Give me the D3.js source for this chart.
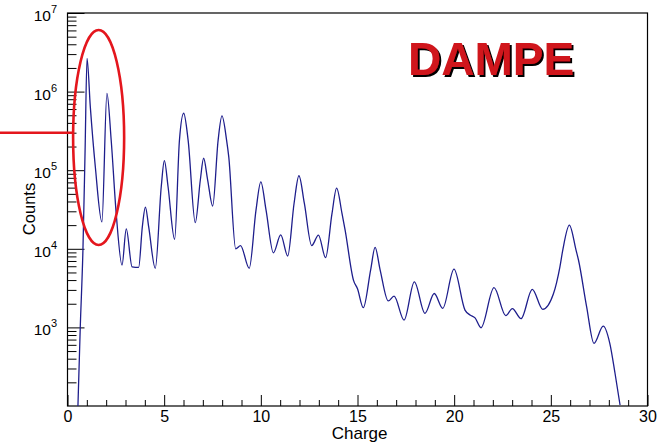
<!DOCTYPE html>
<html>
<head>
<meta charset="utf-8">
<script src="https://cdn.jsdelivr.net/npm/d3@7/dist/d3.min.js"></script>
<style>
  html, body { margin: 0; padding: 0; background: #fff; }
  svg { display: block; }
  text { font-family: "Liberation Sans", Arial, Helvetica, sans-serif; }
</style>
</head>
<body>
<svg id="chart" width="667" height="442"></svg>
<script>
// ---- data ----
const charge = [0.54, 0.66, 0.80, 0.91, 1.01, 1.18, 1.44, 1.78, 2.04, 2.26, 2.52, 2.82, 3.04, 3.34, 3.68,
  3.87, 4.03, 4.20, 4.54, 4.85, 5.01, 5.20, 5.54, 5.79, 6.01, 6.24, 6.61, 6.87, 7.04, 7.25, 7.51,
  7.79, 7.99, 8.23, 8.34, 8.70, 8.95, 9.40, 9.75, 10.0, 10.27, 10.65, 11.03,
  11.39, 11.72, 11.97, 12.25, 12.63, 12.98, 13.35, 13.68, 13.92, 14.2, 14.36, 14.79, 15.0, 15.3,
  15.68, 15.91, 16.17, 16.59, 16.89, 17.41,
  17.94, 18.49, 18.97, 19.41, 19.99, 20.56, 20.82, 21.08, 21.39, 22.06, 22.67, 23.01, 23.46, 24.04,
  24.58, 25.13, 25.47, 25.62, 25.96, 26.3, 26.43, 26.85, 27.23, 27.71, 28.05, 28.32, 28.58];
const counts = [100, 1000, 1.0e4, 1.8e5, 2.65e6, 6.4e5, 1.1e5, 2.2e4, 9.5e5, 2.4e5, 2.8e4, 6.2e3, 1.79e4, 5.9e3, 5.8e3,
  1.9e4, 3.4e4, 1.9e4, 5.65e3, 6.2e4, 1.32e5, 6.2e4, 1.32e4, 2.4e5, 5.3e5, 2.4e5, 2.15e4, 7.5e4, 1.42e5, 7.5e4, 3.5e4,
  2.4e5, 4.9e5, 2.4e5, 1.49e5, 1.0e4, 1.1e4, 5.65e3, 3.1e4, 7.1e4, 3.1e4, 8.9e3, 1.5e4,
  8.1e3, 3.8e4, 8.5e4, 3.8e4, 1.1e4, 1.49e4, 7.7e3, 2.8e4, 5.9e4, 2.8e4, 1.73e4, 4.0e3, 3.1e3, 1.78e3,
  5.4e3, 1.04e4, 5.4e3, 2.17e3, 2.5e3, 1.24e3,
  3.8e3, 1.51e3, 2.7e3, 1.75e3, 5.5e3, 1.66e3, 1.44e3, 1.32e3, 990, 3.2e3, 1.41e3, 1.73e3, 1.29e3, 3.05e3,
  1.7e3, 2.66e3, 5.9e3, 9.7e3, 2.0e4, 9.7e3, 7.2e3, 1.84e3, 628, 1.04e3, 628, 261, 103];
const xMajorTicks = [0, 5, 10, 15, 20, 25, 30];
const xMinorTicks = d3.range(0, 31, 1);
const yExponents = [3, 4, 5, 6, 7];
const xTitle = "Charge";
const yTitle = "Counts";
const label = "DAMPE";
// annotation (in data units)
const ellipseCenter = { c: 1.61, top: 10 ** 6.784, bottom: 10 ** 4.048, half: 1.32 };
const markLevel = 3.0e5;

// ---- layout ----
const svg = d3.select("#chart");
const x = d3.scaleLinear().domain([0, 30]).range([67.5, 647.5]);
const y = d3.scaleLog().domain([100, 1e7]).range([406, 13]);
const [x0, x1] = x.range();
const [yb, yt] = y.range();

const defs = svg.append("defs");
defs.append("clipPath").attr("id", "plotclip")
  .append("rect").attr("x", x0).attr("y", yt).attr("width", x1 - x0).attr("height", yb - yt);
defs.append("filter").attr("id", "shadow").attr("x", "-10%").attr("y", "-10%").attr("width", "120%").attr("height", "130%")
  .append("feDropShadow").attr("dx", 2).attr("dy", 2).attr("stdDeviation", 0.4)
  .attr("flood-color", "#000").attr("flood-opacity", 1);

// minor y ticks
const yMinor = [];
for (let e = 2; e < 7; e++) for (let m = 2; m <= 9; m++) yMinor.push(m * 10 ** e);
svg.append("g").attr("transform", `translate(${x0},0)`)
  .call(d3.axisLeft(y).tickValues(yMinor).tickSize(-9).tickFormat(""))
  .call(g => g.select(".domain").remove())
  .selectAll("line").attr("stroke", "#000").attr("stroke-width", 1);
// major y ticks
svg.append("g").attr("transform", `translate(${x0},0)`)
  .call(d3.axisLeft(y).tickValues(yExponents.map(e => 10 ** e)).tickSize(-17).tickFormat(""))
  .call(g => g.select(".domain").remove())
  .selectAll("line").attr("stroke", "#000").attr("stroke-width", 1);

// y labels with superscripts
const yl = svg.append("g");
yExponents.forEach(e => {
  const t = yl.append("text")
    .attr("x", 57).attr("y", y(10 ** e) + 8)
    .attr("text-anchor", "end").attr("font-size", 15.5).attr("fill", "#000");
  t.append("tspan").text("10");
  t.append("tspan").attr("dy", -8).attr("font-size", 11).text(e);
});

// x minor + major ticks
svg.append("g").attr("transform", `translate(0,${yb})`)
  .call(d3.axisBottom(x).tickValues(xMinorTicks.filter(v => v % 5 !== 0)).tickSize(-6).tickFormat(""))
  .call(g => g.select(".domain").remove())
  .selectAll("line").attr("stroke", "#000");
svg.append("g").attr("transform", `translate(0,${yb})`)
  .call(d3.axisBottom(x).tickValues(xMajorTicks).tickSize(-11).tickPadding(5).tickFormat(d3.format("d")))
  .call(g => g.select(".domain").remove())
  .call(g => g.selectAll("line").attr("stroke", "#000"))
  .call(g => g.selectAll("text").attr("font-size", 16).attr("fill", "#000")
    .attr("font-family", "Liberation Sans, Arial, sans-serif"));

// frame
svg.append("rect").attr("x", x0).attr("y", yt).attr("width", x1 - x0).attr("height", yb - yt)
  .attr("fill", "none").attr("stroke", "#000").attr("stroke-width", 1.2);

// titles
svg.append("text").attr("x", x1 - 260).attr("y", 439).attr("text-anchor", "end")
  .attr("font-size", 17).attr("fill", "#000").text(xTitle);
svg.append("text").attr("transform", `translate(35,209) rotate(-90)`).attr("text-anchor", "middle")
  .attr("font-size", 16.5).attr("fill", "#000").text(yTitle);

// data line
const data = charge.map((c, i) => ({ c, n: counts[i] }));
svg.append("path").datum(data)
  .attr("clip-path", "url(#plotclip)")
  .attr("fill", "none").attr("stroke", "#1e1e8c").attr("stroke-width", 1.3)
  .attr("stroke-linejoin", "round")
  .attr("d", d3.line().x(d => x(d.c)).y(d => y(d.n)).curve(d3.curveMonotoneX));

// annotations
const eyTop = y(ellipseCenter.top), eyBot = y(ellipseCenter.bottom);
svg.append("ellipse")
  .attr("cx", x(ellipseCenter.c)).attr("cy", (eyTop + eyBot) / 2)
  .attr("rx", x(ellipseCenter.half) - x(0)).attr("ry", (eyBot - eyTop) / 2)
  .attr("fill", "none").attr("stroke", "#e4161d").attr("stroke-width", 2.6);
svg.append("line").attr("x1", 0).attr("x2", x(0.28)).attr("y1", y(markLevel)).attr("y2", y(markLevel))
  .attr("stroke", "#e4161d").attr("stroke-width", 2.6);

// DAMPE label with shadow
svg.append("text").attr("x", 408).attr("y", 75).attr("font-size", 46).attr("font-weight", "bold")
  .attr("fill", "#d0161e").attr("filter", "url(#shadow)").text(label);
</script>
</body>
</html>
